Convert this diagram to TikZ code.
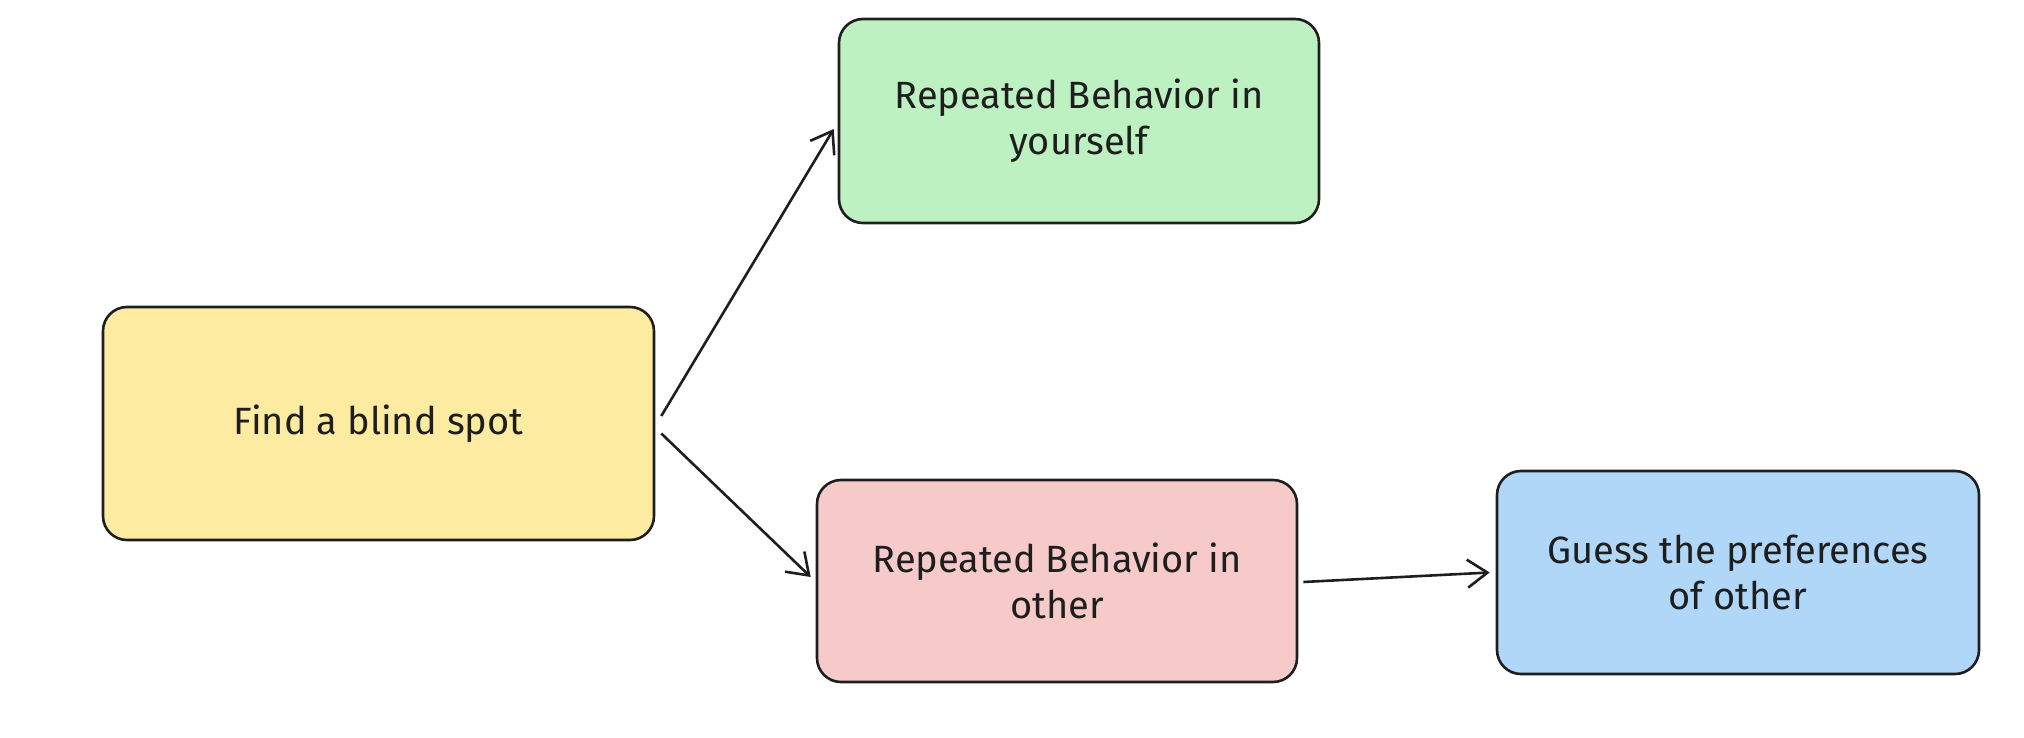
\documentclass[tikz,border=0pt]{standalone}
\usepackage{fontspec}
\setmainfont{Fira Sans}
\usetikzlibrary{arrows.meta}
\definecolor{ink}{HTML}{1E1E1E}
\definecolor{fyellow}{HTML}{FCEBA1}
\definecolor{fgreen}{HTML}{BEF1C1}
\definecolor{fpink}{HTML}{F7CACA}
\definecolor{fblue}{HTML}{B0D6F8}
\tikzset{
  card/.style={draw=ink, line width=1.3pt, rounded corners=12pt, align=center,
    font=\fontsize{19}{23}\selectfont, text=ink, inner sep=0pt},
  link/.style={draw=ink, line width=1.3pt, -{Straight Barb[length=10pt,width=14pt,line width=1.3pt]}}
}
\begin{document}
\begin{tikzpicture}[x=0.5pt,y=-0.5pt]
\useasboundingbox (0,0) rectangle (2024,738);
\node[card, fill=fyellow, minimum width=275.5pt, minimum height=116.5pt] (find) at (378.5,423.5) {Find a blind spot};
\node[card, fill=fgreen, minimum width=240pt, minimum height=102pt] (self) at (1079,121) {Repeated Behavior in\\yourself};
\node[card, fill=fpink, minimum width=240pt, minimum height=101pt] (other) at (1057,581) {Repeated Behavior in\\other};
\node[card, fill=fblue, minimum width=241pt, minimum height=101.5pt] (guess) at (1738,572.5) {Guess the preferences\\of other};
\draw[link] ([xshift=3pt,yshift=3.75pt]find.east) -- ([xshift=-2pt,yshift=-4pt]self.west);
\draw[link] ([xshift=3pt,yshift=-5pt]find.east) -- ([xshift=-2.5pt,yshift=2pt]other.west);
\draw[link] ([xshift=2.5pt,yshift=-0.5pt]other.east) -- ([xshift=-3pt,yshift=0pt]guess.west);
\end{tikzpicture}
\end{document}
